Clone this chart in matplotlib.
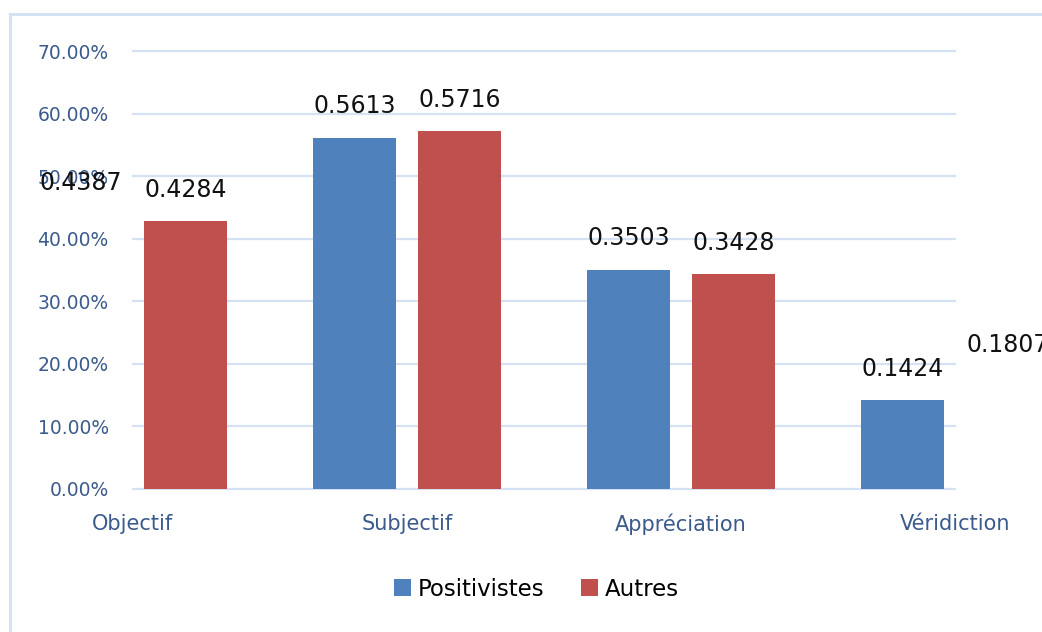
import numpy as np
import matplotlib
matplotlib.use("Agg")
from matplotlib import pyplot as plt
from matplotlib.lines import Line2D
from matplotlib.ticker import PercentFormatter

categories = ["Objectif", "Subjectif", "Appréciation", "Véridiction"]
positivistes = [0.4387, 0.5613, 0.3503, 0.1424]
autres = [0.4284, 0.5716, 0.3428, 0.1807]

blue = "#4f81bd"
red = "#c0504d"
grid_col = "#d5e2f3"
txt_blue = "#3b5b8c"

plt.rcParams['font.family'] = ['DejaVu Sans']

fig = plt.figure(figsize=(10.42, 6.32), dpi=100)
ax = fig.add_axes([0.1276, 0.2263, 0.9165 - 0.1276, 0.9193 - 0.2263])

x = np.arange(len(categories))
w = 0.305
off = 0.191
b1 = ax.bar(x - off, positivistes, w, color=blue, label="Positivistes", zorder=3)
b2 = ax.bar(x + off, autres, w, color=red, label="Autres", zorder=3)

# data labels (drawn even where the bar is clipped away)
for bars, vals in [(b1, positivistes), (b2, autres)]:
    for rect, v in zip(bars, vals):
        ax.annotate(f"{v:.4f}", (rect.get_x() + rect.get_width() / 2, v),
                    xytext=(0, 17.5), textcoords="offset points",
                    ha="center", va="baseline", fontsize=17, color="#111111",
                    annotation_clip=False, clip_on=False, zorder=5)

ax.set_xlim(0.005, 2.995)
ax.set_ylim(0, 0.7)
ax.set_yticks(np.arange(0, 0.71, 0.1))
ax.yaxis.set_major_formatter(PercentFormatter(1.0, decimals=2))
ax.set_xticks(x)
ax.set_xticklabels(categories)
ax.grid(axis="y", color=grid_col, linewidth=1.6, zorder=0)
for gl in ax.get_ygridlines():
    gl.set_clip_on(False)
for s in ax.spines.values():
    s.set_visible(False)
ax.tick_params(axis="y", length=0, pad=17.5, labelsize=13.5, labelcolor=txt_blue)
ax.tick_params(axis="x", length=0, pad=18, labelsize=15, labelcolor=txt_blue)

fig.legend(handles=[b1, b2], loc="center", bbox_to_anchor=(0.515, 0.068),
           ncol=2, frameon=False, fontsize=16.5, handlelength=0.75,
           handleheight=0.75, handletextpad=0.3, columnspacing=1.6)

# chart area border (left and top)
fig.add_artist(Line2D([0.0096, 0.0096], [0, 0.978], color=grid_col, linewidth=2.2))
fig.add_artist(Line2D([0.0096, 1.0], [0.978, 0.978], color=grid_col, linewidth=2.2))

fig.savefig("out.png", dpi=100)
